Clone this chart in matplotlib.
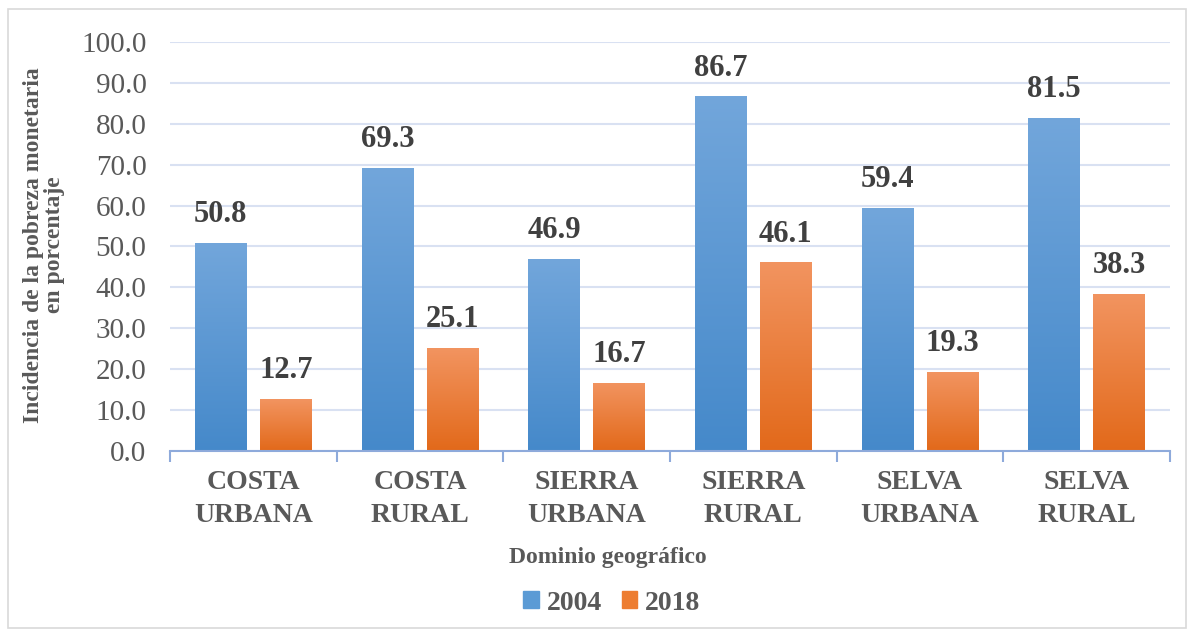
import numpy as np
import matplotlib
matplotlib.use("Agg")
import matplotlib.pyplot as plt
from matplotlib.colors import LinearSegmentedColormap
from matplotlib.patches import Rectangle

categories = ["COSTA\nURBANA", "COSTA\nRURAL", "SIERRA\nURBANA",
              "SIERRA\nRURAL", "SELVA\nURBANA", "SELVA\nRURAL"]
vals_2004 = [50.8, 69.3, 46.9, 86.7, 59.4, 81.5]
vals_2018 = [12.7, 25.1, 16.7, 46.1, 19.3, 38.3]
series_names = ["2004", "2018"]

BLUE_TOP, BLUE_BOT = "#72A6DB", "#4589CA"
ORANGE_TOP, ORANGE_BOT = "#F29460", "#E2691A"
TICK_COL = "#595959"
LABEL_COL = "#404040"
GRID_COL = "#D9E1F2"
AXIS_COL = "#8EAADB"

plt.rcParams["font.family"] = ["Liberation Serif", "DejaVu Serif"]

W, H = 1194, 633
fig = plt.figure(figsize=(W / 100, H / 100), dpi=100)
fig.patches.append(Rectangle((8 / W, 5 / H), 1178 / W, 619 / H, transform=fig.transFigure,
                             fill=False, edgecolor="#D9D9D9", linewidth=1.2))

ax = fig.add_axes([170 / W, 1 - 451 / H, 1000 / W, 409 / H])

x = np.arange(len(categories))
width = 0.31
off = 0.195


def grad_bars(xpos, vals, top, bot):
    bars = ax.bar(xpos, vals, width, color="none", edgecolor="none", zorder=2)
    cmap = LinearSegmentedColormap.from_list("g", [bot, top])
    grad = np.linspace(0, 1, 256).reshape(-1, 1)
    for b in bars:
        x0, h = b.get_x(), b.get_height()
        im = ax.imshow(grad, extent=[x0, x0 + b.get_width(), 0, h], origin="lower",
                       aspect="auto", cmap=cmap, zorder=2)
        im.set_clip_path(b)
    for xi, v in zip(xpos, vals):
        ax.annotate(f"{v:.1f}", (xi, v), xytext=(0, 10), textcoords="offset points",
                    ha="center", va="bottom", fontsize=22, fontweight="bold", color=LABEL_COL)
    return bars


grad_bars(x - off, vals_2004, BLUE_TOP, BLUE_BOT)
grad_bars(x + off, vals_2018, ORANGE_TOP, ORANGE_BOT)

ax.set_xlim(-0.5, len(categories) - 0.5)
ax.set_ylim(0, 100)
ax.set_yticks(np.arange(0, 101, 10))
ax.set_yticklabels([f"{v:.1f}" for v in np.arange(0, 101, 10)], fontsize=21, color=TICK_COL)
ax.yaxis.grid(True, color=GRID_COL, linewidth=1.5, zorder=0)
ax.set_axisbelow(True)
ax.tick_params(axis="y", length=0, pad=17)

ax.set_xticks(x)
ax.set_xticklabels(categories, fontsize=20, fontweight="bold", color=TICK_COL, linespacing=1.4)
ax.tick_params(axis="x", length=0, pad=14)
ax.set_xticks(np.arange(-0.5, len(categories)), minor=True)
ax.tick_params(axis="x", which="minor", length=8, width=1.5, color=AXIS_COL)

for s in ["top", "right", "left"]:
    ax.spines[s].set_visible(False)
ax.spines["bottom"].set_color(AXIS_COL)
ax.spines["bottom"].set_linewidth(1.5)

fig.text(44 / W, 1 - 245 / H, "Incidencia de la pobreza monetaria\nen porcentaje", rotation=90,
         ha="center", va="center", fontsize=17, fontweight="bold", color=TICK_COL, linespacing=1.0)
fig.text(608 / W, 1 - 558 / H, "Dominio geográfico", ha="center", va="center",
         fontsize=17, fontweight="bold", color=TICK_COL)

handles = [Rectangle((0, 0), 1, 1, color=c) for c in ["#5B9BD5", "#ED7D31"]]
fig.legend(handles, series_names, loc="center", bbox_to_anchor=(612 / W, 1 - 603 / H), ncol=2,
           frameon=False, prop={"size": 20, "weight": "bold"}, labelcolor=TICK_COL,
           handlelength=0.55, handleheight=0.55, handletextpad=0.3, columnspacing=0.7,
           borderpad=0, borderaxespad=0)

fig.savefig("out.png", dpi=100)
